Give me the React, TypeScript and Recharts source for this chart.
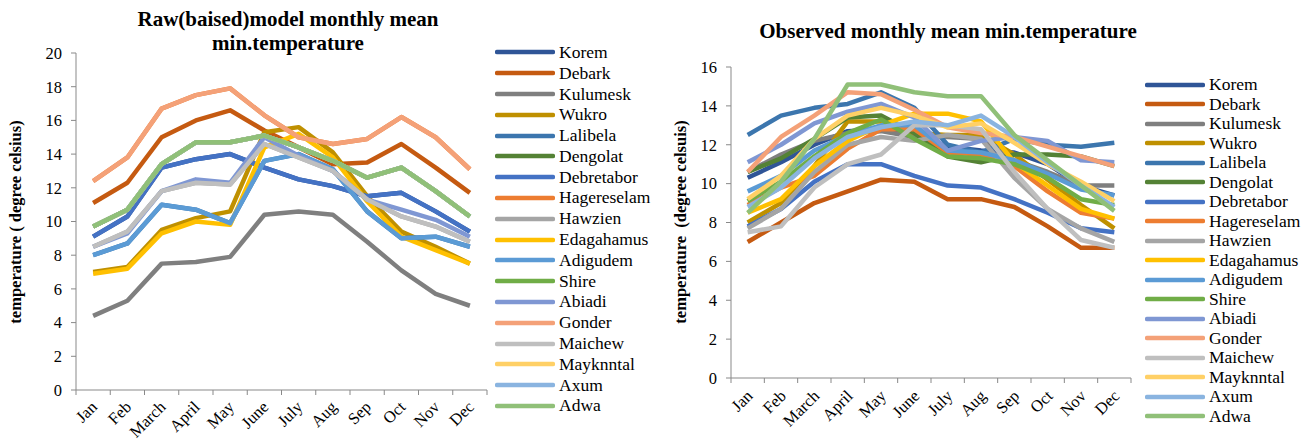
import React from 'react'
import { LineChart, Line, XAxis, YAxis } from 'recharts'

const months = ['Jan', 'Feb', 'March', 'April', 'May', 'June', 'July', 'Aug', 'Sep', 'Oct', 'Nov', 'Dec']

const stations = [
  'Korem', 'Debark', 'Kulumesk', 'Wukro', 'Lalibela', 'Dengolat', 'Debretabor', 'Hagereselam', 'Hawzien',
  'Edagahamus', 'Adigudem', 'Shire', 'Abiadi', 'Gonder', 'Maichew', 'Mayknntal', 'Axum', 'Adwa',
]

const colors = [
  '#2F5597', '#C55A11', '#7F7F7F', '#BF9000', '#3C76AE', '#548235', '#4472C4', '#ED7D31', '#A5A5A5',
  '#FFC000', '#5B9BD5', '#70AD47', '#7F97D3', '#F4A178', '#BFBFBF', '#FFD066', '#8AB4E0', '#90C078',
]

// raw (biased) model, one list per station, Jan..Dec
const rawKorem = [9.1, 10.3, 13.2, 13.7, 14.0, 13.2, 12.5, 12.1, 11.5, 11.7, 10.6, 9.4]
const rawDebark = [11.1, 12.3, 15.0, 16.0, 16.6, 15.4, 14.4, 13.4, 13.5, 14.6, 13.2, 11.7]
const rawKulumesk = [4.4, 5.3, 7.5, 7.6, 7.9, 10.4, 10.6, 10.4, 8.8, 7.1, 5.7, 5.0]
const rawWukro = [7.0, 7.3, 9.5, 10.2, 10.6, 15.3, 15.6, 14.1, 11.5, 9.4, 8.5, 7.5]
const rawLalibela = [8.0, 8.7, 11.0, 10.7, 9.9, 13.6, 14.0, 13.1, 10.6, 9.0, 9.1, 8.5]
const rawDengolat = [9.7, 10.7, 13.4, 14.7, 14.7, 15.1, 14.4, 13.6, 12.6, 13.2, 11.8, 10.3]
const rawDebretabor = [9.1, 10.3, 13.2, 13.7, 14.0, 13.2, 12.5, 12.1, 11.5, 11.7, 10.6, 9.4]
const rawHagereselam = [12.4, 13.8, 16.7, 17.5, 17.9, 16.3, 15.0, 14.6, 14.9, 16.2, 15.0, 13.1]
const rawHawzien = [8.5, 9.4, 11.8, 12.3, 12.2, 14.6, 13.8, 13.0, 11.3, 10.3, 9.7, 8.8]
const rawEdagahamus = [6.9, 7.2, 9.3, 10.0, 9.8, 14.4, 15.2, 13.8, 11.2, 9.1, 8.3, 7.5]
const rawAdigudem = [8.0, 8.7, 11.0, 10.7, 9.9, 13.6, 14.0, 13.1, 10.6, 9.0, 9.1, 8.5]
const rawShire = [9.7, 10.7, 13.4, 14.7, 14.7, 15.1, 14.4, 13.6, 12.6, 13.2, 11.8, 10.3]
const rawAbiadi = [8.5, 9.3, 11.8, 12.5, 12.3, 15.0, 13.9, 13.0, 11.3, 10.7, 10.1, 9.1]
const rawGonder = [12.4, 13.8, 16.7, 17.5, 17.9, 16.3, 15.0, 14.6, 14.9, 16.2, 15.0, 13.1]
const rawMaichew = [8.5, 9.4, 11.8, 12.3, 12.2, 14.6, 13.8, 13.0, 11.3, 10.3, 9.7, 8.8]
const rawMayknntal = [9.7, 10.7, 13.4, 14.7, 14.7, 15.1, 14.4, 13.6, 12.6, 13.2, 11.8, 10.3]
const rawAxum = [9.7, 10.7, 13.4, 14.7, 14.7, 15.1, 14.4, 13.6, 12.6, 13.2, 11.8, 10.3]
const rawAdwa = [9.7, 10.7, 13.4, 14.7, 14.7, 15.1, 14.4, 13.6, 12.6, 13.2, 11.8, 10.3]

// observed
const obsKorem = [10.3, 11.1, 12.0, 12.7, 12.8, 12.6, 11.9, 11.7, 11.6, 11.0, 9.9, 9.4]
const obsDebark = [7.0, 8.0, 9.0, 9.6, 10.2, 10.1, 9.2, 9.2, 8.8, 7.8, 6.7, 6.7]
const obsKulumesk = [10.6, 11.5, 12.2, 12.6, 12.7, 12.4, 12.4, 12.3, 11.2, 10.6, 9.9, 9.9]
const obsWukro = [8.0, 9.0, 10.9, 13.2, 13.2, 12.6, 12.5, 12.5, 11.5, 10.2, 8.9, 7.7]
const obsLalibela = [12.5, 13.5, 13.9, 14.1, 14.7, 13.9, 12.0, 11.6, 12.3, 12.0, 11.9, 12.1]
const obsDengolat = [10.6, 11.3, 12.3, 13.4, 13.5, 12.6, 11.4, 11.1, 11.5, 11.5, 11.4, 10.9]
const obsDebretabor = [7.8, 8.7, 10.1, 11.0, 11.0, 10.4, 9.9, 9.8, 9.2, 8.5, 7.7, 7.5]
const obsHagereselam = [8.9, 9.8, 10.4, 11.8, 12.8, 12.8, 11.6, 11.5, 10.9, 9.6, 8.5, 8.2]
const obsHawzien = [7.7, 8.7, 10.6, 12.0, 12.4, 12.2, 12.5, 12.3, 10.3, 8.7, 7.7, 7.0]
const obsEdagahamus = [8.5, 9.2, 10.9, 12.2, 13.0, 13.6, 13.6, 13.2, 11.1, 9.9, 8.7, 8.2]
const obsAdigudem = [9.6, 10.4, 11.7, 12.5, 13.0, 13.0, 11.7, 11.6, 11.2, 10.5, 9.7, 9.4]
const obsShire = [9.1, 10.1, 11.4, 12.6, 13.3, 12.3, 11.4, 11.3, 11.0, 10.3, 9.2, 8.9]
const obsAbiadi = [11.1, 12.0, 13.1, 13.7, 14.1, 13.4, 11.7, 12.2, 12.4, 12.2, 11.2, 11.1]
const obsGonder = [10.6, 12.4, 13.5, 14.7, 14.6, 13.8, 12.9, 12.6, 12.4, 11.9, 11.4, 10.9]
const obsMaichew = [7.5, 7.8, 9.8, 11.0, 11.5, 13.0, 13.0, 12.8, 10.6, 8.7, 7.1, 6.7]
const obsMayknntal = [9.2, 10.4, 12.3, 13.5, 13.9, 13.5, 12.9, 13.1, 12.1, 11.0, 10.1, 9.1]
const obsAxum = [8.8, 9.8, 11.3, 12.4, 12.9, 13.2, 13.0, 13.5, 12.4, 11.1, 9.9, 8.8]
const obsAdwa = [8.5, 10.1, 12.3, 15.1, 15.1, 14.7, 14.5, 14.5, 12.5, 11.2, 9.9, 8.6]

const rawSeries = [
  rawKorem, rawDebark, rawKulumesk, rawWukro, rawLalibela, rawDengolat, rawDebretabor, rawHagereselam, rawHawzien,
  rawEdagahamus, rawAdigudem, rawShire, rawAbiadi, rawGonder, rawMaichew, rawMayknntal, rawAxum, rawAdwa,
]
const obsSeries = [
  obsKorem, obsDebark, obsKulumesk, obsWukro, obsLalibela, obsDengolat, obsDebretabor, obsHagereselam, obsHawzien,
  obsEdagahamus, obsAdigudem, obsShire, obsAbiadi, obsGonder, obsMaichew, obsMayknntal, obsAxum, obsAdwa,
]

const rawTicks = [0, 2, 4, 6, 8, 10, 12, 14, 16, 18, 20]
const obsTicks = [0, 2, 4, 6, 8, 10, 12, 14, 16]
const edgeTicks = [0, 1, 2, 3, 4, 5, 6, 7, 8, 9, 10, 11, 12]

const FONT = "'Times New Roman', 'Liberation Serif', serif"
const AXIS = '#898989'

function buildRows(series: number[][]) {
  return months.map((m, i) => {
    const row: any = { pos: i + 0.5, month: m }
    stations.forEach((s, k) => {
      row[s] = series[k][i]
    })
    return row
  })
}

const rawData = buildRows(rawSeries)
const obsData = buildRows(obsSeries)

function monthTick(band: number, dx: number, dy: number) {
  return (props: any) => {
    const { x, y, payload } = props
    const i = payload.value
    if (i >= 12) return <g />
    const tx = x + band / 2 + dx
    const ty = y + dy
    return (
      <text x={tx} y={ty} textAnchor="end" fontSize={16.5} fontFamily={FONT} fill="#000"
        transform={`rotate(-45, ${tx}, ${ty})`}>
        {months[i]}
      </text>
    )
  }
}

function StationLegend({ left, top, step }: { left: number; top: number; step: number }) {
  return (
    <div style={{ position: 'absolute', left, top, fontFamily: FONT, fontSize: 17.5, color: '#000' }}>
      {stations.map((s, k) => (
        <div key={s} style={{ height: step, display: 'flex', alignItems: 'center', whiteSpace: 'nowrap' }}>
          <svg width={60} height={8} style={{ marginRight: 4 }}>
            <line x1={2} y1={4} x2={58} y2={4} stroke={colors[k]} strokeWidth={4.5} strokeLinecap="round" />
          </svg>
          <span>{s}</span>
        </div>
      ))}
    </div>
  )
}

function Panel({ data, ticks, max, width, height, margin, yWidth, xHeight, band, dx, dy }: any) {
  return (
    <LineChart width={width} height={height} data={data} margin={margin}>
      <XAxis dataKey="pos" type="number" domain={[0, 12]} ticks={edgeTicks} interval={0}
        height={xHeight} stroke={AXIS} tickSize={5} tick={monthTick(band, dx, dy)} />
      <YAxis domain={[0, max]} ticks={ticks} interval={0} width={yWidth} stroke={AXIS} tickSize={5}
        tick={{ fontSize: 16.5, fontFamily: FONT, fill: '#000' }} tickMargin={9} />
      {stations.map((s, k) => (
        <Line key={s} dataKey={s} stroke={colors[k]} strokeWidth={4.5} dot={false}
          isAnimationActive={false} strokeLinejoin="round" />
      ))}
    </LineChart>
  )
}

export default function App() {
  const titleStyle: React.CSSProperties = {
    position: 'absolute', fontFamily: FONT, fontWeight: 'bold', fontSize: 21, color: '#000',
    textAlign: 'center', lineHeight: '24px', whiteSpace: 'nowrap',
  }
  const yTitle: React.CSSProperties = {
    position: 'absolute', fontFamily: FONT, fontWeight: 'bold', fontSize: 16.5, color: '#000',
    whiteSpace: 'pre', transform: 'translate(-50%, -50%) rotate(-90deg)',
  }
  return (
    <div style={{ position: 'absolute', left: 0, top: 0, width: 1311, height: 441, background: '#fff', overflow: 'hidden' }}>
      <div style={{ ...titleStyle, left: 288, top: 7, transform: 'translateX(-50%)' }}>
        Raw(baised)model monthly mean<br />min.temperature
      </div>
      <div style={{ ...titleStyle, left: 948, top: 19, transform: 'translateX(-50%)' }}>
        Observed monthly mean min.temperature
      </div>
      <div style={{ ...yTitle, left: 16, top: 222 }}>temperature ( degree celsius)</div>
      <div style={{ ...yTitle, left: 681, top: 222 }}>temperature  (degree celsuis)</div>

      <div style={{ position: 'absolute', left: 0, top: 0 }}>
        <Panel data={rawData} ticks={rawTicks} max={20} width={640} height={441}
          margin={{ top: 53, right: 153, bottom: 0, left: 0 }} yWidth={76} xHeight={51}
          band={411 / 12} dx={5} dy={11} />
      </div>
      <div style={{ position: 'absolute', left: 640, top: 0 }}>
        <Panel data={obsData} ticks={obsTicks} max={16} width={671} height={441}
          margin={{ top: 67, right: 180, bottom: 0, left: 0 }} yWidth={91} xHeight={63}
          band={400 / 12} dx={6} dy={12} />
      </div>

      <StationLegend left={495} top={42} step={20.8} />
      <StationLegend left={1145} top={75} step={19.5} />
    </div>
  )
}
